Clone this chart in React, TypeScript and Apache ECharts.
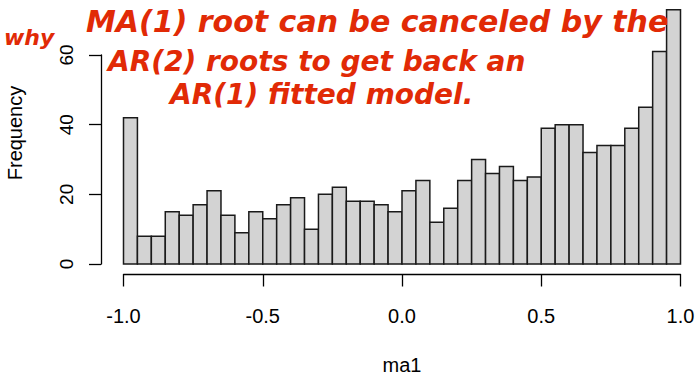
import React, { useEffect, useRef } from "react";
import * as echarts from "echarts";

// Histogram of ma1 estimates: 40 bins of width 0.05 from -1 to 1
const binStart = -1;
const binWidth = 0.05;
const counts = [
  42, 8, 8, 15, 14, 17, 21, 14, 9, 15,
  13, 17, 19, 10, 20, 22, 18, 18, 17, 15,
  21, 24, 12, 16, 24, 30, 26, 28, 24, 25,
  39, 40, 40, 32, 34, 34, 39, 45, 61, 73,
];
const xTicks = [-1, -0.5, 0, 0.5, 1];
const yTicks = [0, 20, 40, 60];
const xLabel = "ma1";
const yLabel = "Frequency";
const noteLines = [
  "why",
  "MA(1) root can be canceled by the",
  "AR(2) roots to get back an",
  "AR(1) fitted model.",
];

const FONT = "'Liberation Sans', Arial, Helvetica, sans-serif";
const HAND = "'DejaVu Sans', sans-serif";
const RED = "#e12a06";

export default function App() {
  const ref = useRef<HTMLDivElement>(null);

  useEffect(() => {
    document.body.style.margin = "0";
    if (!ref.current) return;
    const chart = echarts.init(ref.current, undefined, { renderer: "svg" });
    const data = counts.map((c, i) => [
      binStart + i * binWidth,
      binStart + (i + 1) * binWidth,
      c,
    ]);
    const handStyle = (size: number) => ({
      fill: RED,
      fontFamily: HAND,
      fontStyle: "italic",
      fontWeight: "bold",
      fontSize: size,
    });
    chart.setOption({
      animation: false,
      grid: {
        left: 123.5,
        right: 15.5,
        top: 55,
        bottom: 110,
        containLabel: false,
        outerBoundsMode: "none",
      },
      xAxis: {
        type: "value",
        min: xTicks[0],
        max: xTicks[xTicks.length - 1],
        interval: 0.5,
        offset: 10.5,
        axisLine: { show: true, onZero: false, lineStyle: { color: "#000", width: 1.3 } },
        axisTick: { show: true, length: 12, lineStyle: { color: "#000", width: 1.3 } },
        axisLabel: {
          color: "#000",
          fontFamily: FONT,
          fontSize: 20,
          margin: 31,
          formatter: (v: number) => v.toFixed(1),
        },
        splitLine: { show: false },
        name: xLabel,
        nameLocation: "middle",
        nameGap: 80,
        nameTextStyle: { color: "#000", fontFamily: FONT, fontSize: 20 },
      },
      yAxis: {
        type: "value",
        min: yTicks[0],
        max: yTicks[yTicks.length - 1],
        interval: 20,
        offset: 22.5,
        axisLine: { show: true, onZero: false, lineStyle: { color: "#000", width: 1.3 } },
        axisTick: { show: true, length: 12, lineStyle: { color: "#000", width: 1.3 } },
        axisLabel: {
          color: "#000",
          fontFamily: FONT,
          fontSize: 19,
          rotate: 90,
          margin: 25,
        },
        splitLine: { show: false },
      },
      series: [
        {
          type: "custom",
          clip: false,
          encode: { x: [0, 1], y: 2 },
          data,
          renderItem: (params: any, api: any) => {
            const lo = api.value(0);
            const hi = api.value(1);
            const v = api.value(2);
            const p0 = api.coord([lo, 0]);
            const p1 = api.coord([hi, v]);
            return {
              type: "rect",
              shape: { x: p0[0], y: p1[1], width: p1[0] - p0[0], height: p0[1] - p1[1] },
              style: { fill: "#d3d3d3", stroke: "#1a1a1a", lineWidth: 1.5 },
            };
          },
        },
      ],
      graphic: [
        {
          type: "text",
          x: 15,
          y: 133,
          rotation: Math.PI / 2,
          style: {
            text: yLabel,
            fill: "#000",
            fontFamily: FONT,
            fontSize: 20,
            align: "center",
            verticalAlign: "middle",
          },
        },
        {
          type: "text",
          x: 4,
          y: 48,
          z: 100,
          style: { ...handStyle(22), text: noteLines[0], align: "left", verticalAlign: "bottom" },
        },
        {
          type: "text",
          x: 86,
          y: 36,
          z: 100,
          style: { ...handStyle(30), text: noteLines[1], align: "left", verticalAlign: "bottom" },
        },
        {
          type: "text",
          x: 108,
          y: 75,
          z: 100,
          style: { ...handStyle(28), text: noteLines[2], align: "left", verticalAlign: "bottom" },
        },
        {
          type: "text",
          x: 170,
          y: 108,
          z: 100,
          style: { ...handStyle(28), text: noteLines[3], align: "left", verticalAlign: "bottom" },
        },
      ],
    });
    return () => chart.dispose();
  }, []);

  return (
    <div
      ref={ref}
      style={{ position: "absolute", left: 0, top: 0, width: 696, height: 374, background: "#fff" }}
    />
  );
}
